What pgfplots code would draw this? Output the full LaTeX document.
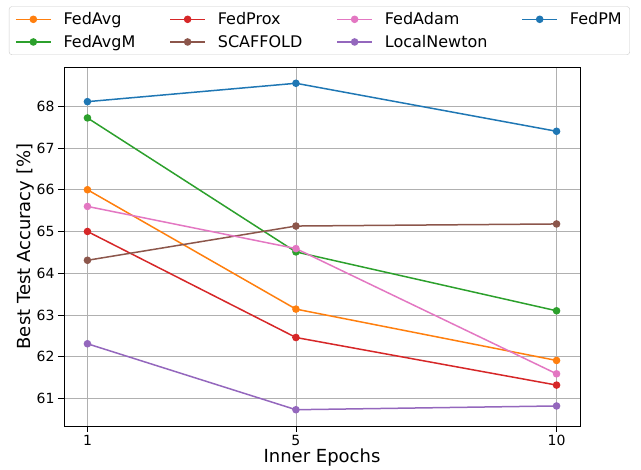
\documentclass[border=0pt]{standalone}
\usepackage{pgfplots}
\pgfplotsset{compat=1.18}
\usepackage{fontspec}
\setmainfont{DejaVu Sans}
\definecolor{c0}{HTML}{1F77B4}
\definecolor{c1}{HTML}{FF7F0E}
\definecolor{c2}{HTML}{2CA02C}
\definecolor{c3}{HTML}{D62728}
\definecolor{c4}{HTML}{9467BD}
\definecolor{c5}{HTML}{8C564B}
\definecolor{c6}{HTML}{E377C2}
\definecolor{gridc}{HTML}{B0B0B0}
\definecolor{legc}{HTML}{CCCCCC}
\begin{document}
\begin{tikzpicture}
\begin{axis}[
  scale only axis,
  width=516pt, height=359pt,
  xmin=0.55, xmax=10.45,
  ymin=60.34, ymax=68.94,
  xtick={1,5,10},
  ytick={61,62,63,64,65,66,67,68},
  tick pos=left,
  tick align=outside,
  major tick length=6pt,
  every tick/.style={black, line width=0.8pt},
  grid=major,
  major grid style={color=gridc, line width=0.8pt},
  axis line style={black, line width=0.8pt},
  /pgf/number format/assume math mode=true,
  tick label style={font=\fontsize{14}{16}\selectfont},
  xlabel={Inner Epochs},
  ylabel={Best Test Accuracy [\%]},
  label style={font=\fontsize{18}{20}\selectfont},
  xlabel style={yshift=4pt},
  ylabel style={yshift=-4pt},
  clip=false,
  legend columns=4,
  legend cell align=left,
  legend style={at={(0.495,1)}, anchor=south, yshift=12pt,
    font=\fontsize{16}{18}\selectfont, draw=legc, rounded corners=3pt,
    fill=white, inner xsep=6pt, inner ysep=4pt,
    /tikz/every odd column/.append style={column sep=10pt},
    /tikz/every even column/.append style={column sep=32pt},
    row sep=5pt},
  legend image code/.code={\draw[mark repeat=2,mark phase=2,#1] plot coordinates {(0pt,0pt) (17.5pt,0pt) (35pt,0pt)};},
  every axis plot/.append style={line width=1.5pt, mark=*, mark size=3pt},
]
\addlegendimage{c1, line width=1.5pt, mark=*, mark size=3pt}
\addlegendentry{FedAvg}
\addlegendimage{c3, line width=1.5pt, mark=*, mark size=3pt}
\addlegendentry{FedProx}
\addlegendimage{c6, line width=1.5pt, mark=*, mark size=3pt}
\addlegendentry{FedAdam}
\addlegendimage{c0, line width=1.5pt, mark=*, mark size=3pt}
\addlegendentry{FedPM}
\addlegendimage{c2, line width=1.5pt, mark=*, mark size=3pt}
\addlegendentry{FedAvgM}
\addlegendimage{c5, line width=1.5pt, mark=*, mark size=3pt}
\addlegendentry{SCAFFOLD}
\addlegendimage{c4, line width=1.5pt, mark=*, mark size=3pt}
\addlegendentry{LocalNewton}

\addplot[c1, forget plot] coordinates {(1,66.00) (5,63.14) (10,61.91)};
\addplot[c2, forget plot] coordinates {(1,67.72) (5,64.51) (10,63.10)};
\addplot[c3, forget plot] coordinates {(1,65.00) (5,62.46) (10,61.32)};
\addplot[c5, forget plot] coordinates {(1,64.31) (5,65.13) (10,65.18)};
\addplot[c6, forget plot] coordinates {(1,65.60) (5,64.59) (10,61.59)};
\addplot[c4, forget plot] coordinates {(1,62.31) (5,60.73) (10,60.82)};
\addplot[c0, forget plot] coordinates {(1,68.11) (5,68.55) (10,67.40)};

\path (rel axis cs:0,0) ++(-64pt,-44pt) coordinate (bbA);
\path (rel axis cs:1,1) ++(61pt,67pt) coordinate (bbB);
\path (bbA) rectangle (bbB);
\end{axis}
\end{tikzpicture}
\end{document}
